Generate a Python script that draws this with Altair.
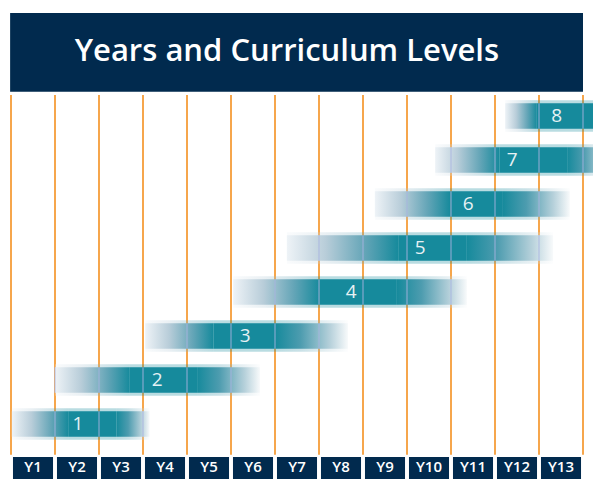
import altair as alt
import pandas as pd

# ---- data ----
years = ["Y1", "Y2", "Y3", "Y4", "Y5", "Y6", "Y7", "Y8", "Y9", "Y10", "Y11", "Y12", "Y13"]
levels = [1, 2, 3, 4, 5, 6, 7, 8]
level_start = [0.02, 1.0, 3.05, 5.05, 6.27, 8.27, 9.64, 11.23]
solid_start = [1.3, 2.7, 4.6, 7.02, 8.8, 9.98, 11.1, 11.95]
solid_end = [2.4, 4.23, 6.0, 8.77, 10.36, 11.18, 12.64, 13.7]
level_end = [3.15, 5.66, 7.66, 10.36, 12.32, 12.7, 13.7, 13.72]
label_pos = [1.52, 3.32, 5.32, 7.73, 9.3, 10.39, 11.39, 12.4]
title_text = "Years and Curriculum Levels"

NAVY = "#012a4e"
TEAL = "#168a9c"
ORANGE = "#f6a64c"
FONT = "Open Sans"

bars = pd.DataFrame({"level": levels, "start": level_start, "s1": solid_start,
                     "s2": solid_end, "end": level_end, "lab": label_pos})
bounds = pd.DataFrame({"b": list(range(len(years) + 1))})
yr = pd.DataFrame({"year": years, "i": list(range(len(years)))})

over = []
for lv, a, e in zip(levels, level_start, level_end):
    for k in range(len(years) + 1):
        if a <= k <= e:
            over.append({"level": lv, "b": k})
over_df = pd.DataFrame(over)

xs = alt.Scale(domain=[0, 13], nice=False, zero=False)
ys = alt.Scale(domain=[0, 10.25], nice=False, zero=False)

def X(f):
    return alt.X(f, type="quantitative", scale=xs, axis=None)

def Y(f):
    return alt.Y(f, type="quantitative", scale=ys, axis=None)

H = 0.29

left_grad = alt.Gradient(gradient="linear", x1=0, x2=1, y1=0, y2=0, stops=[
    alt.GradientStop(offset=0, color="#eef3f7"),
    alt.GradientStop(offset=0.35, color="#b8cdd9"),
    alt.GradientStop(offset=0.7, color="#64a5b7"),
    alt.GradientStop(offset=1, color=TEAL)])
right_grad = alt.Gradient(gradient="linear", x1=0, x2=1, y1=0, y2=0, stops=[
    alt.GradientStop(offset=0, color=TEAL),
    alt.GradientStop(offset=0.35, color="#4d9caf"),
    alt.GradientStop(offset=0.75, color="#b5d0da"),
    alt.GradientStop(offset=1, color="#f8fafb")])

base_bars = alt.Chart(bars).transform_calculate(
    y0="datum.level - %f" % H, y1="datum.level + %f" % H,
    yb0="datum.level - %f" % (H + 0.07), yb1="datum.level + %f" % (H + 0.07))

def segs(y0, y1, op):
    return [
        base_bars.mark_rect(color=left_grad, opacity=op).encode(x=X("start"), x2="s1", y=Y(y0), y2=y1),
        base_bars.mark_rect(color=TEAL, opacity=op).encode(x=X("s1"), x2="s2", y=Y(y0), y2=y1),
        base_bars.mark_rect(color=right_grad, opacity=op).encode(x=X("s2"), x2="end", y=Y(y0), y2=y1),
    ]

title_df = pd.DataFrame({"t": [title_text], "x0": [-0.02], "x1": [13.0], "y0": [8.55], "y1": [10.34],
                         "tx": [6.27], "ty": [9.45]})
title_box = alt.Chart(title_df).mark_rect(color=NAVY).encode(x=X("x0"), x2="x1", y=Y("y0"), y2="y1")
title_txt = alt.Chart(title_df).mark_text(color="white", font=FONT, fontSize=31, fontWeight=600,
                                          align="center", baseline="middle").encode(
    x=X("tx"), y=Y("ty"), text="t:N")

lines = alt.Chart(bounds).transform_calculate(y0="0.3", y1="8.48").mark_rule(
    color=ORANGE, strokeWidth=2).encode(x=X("b"), y=Y("y0"), y2="y1")

over_lines = alt.Chart(over_df).transform_calculate(
    y0="datum.level - %f" % H, y1="datum.level + %f" % H).mark_rule(
    color="#a9b2e0", strokeWidth=1.5, opacity=0.6).encode(x=X("b"), y=Y("y0"), y2="y1")

bar_labels = base_bars.transform_calculate(t="'' + datum.level").mark_text(
    color="#e6f1f4", font=FONT, fontSize=19, fontWeight=500, align="center", baseline="middle").encode(
    x=X("lab"), y=Y("level"), text="t:N")

year_boxes = alt.Chart(yr).transform_calculate(
    x0="datum.i + 0.045", x1="datum.i + 0.955", y0="-0.35", y1="0.25").mark_rect(color=NAVY).encode(
    x=X("x0"), x2="x1", y=Y("y0"), y2="y1")
year_txt = alt.Chart(yr).transform_calculate(xc="datum.i + 0.5", yc="0.03").mark_text(
    color="white", font=FONT, fontSize=15, fontWeight=600, align="center", baseline="middle").encode(
    x=X("xc"), y=Y("yc"), text="year:N")

chart = alt.layer(
    title_box, title_txt, lines,
    *segs("yb0", "yb1", 0.3),
    *segs("y0", "y1", 1.0),
    over_lines, bar_labels, year_boxes, year_txt,
).properties(
    width=572, height=451, autosize="none",
    padding={"left": 3, "top": 9, "right": 10, "bottom": 11},
).configure_view(stroke=None)

chart.save("out.html", embed_options={"renderer": "svg", "actions": False})
